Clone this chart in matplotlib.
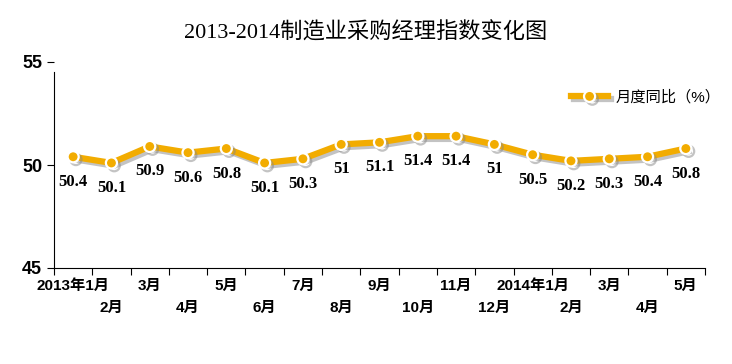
import numpy as np
import matplotlib.pyplot as plt
import matplotlib.patheffects as pe

plt.rcParams['font.family'] = ['Liberation Sans', 'Noto Sans CJK SC']

# 数据
months = ['2013年1月', '2月', '3月', '4月', '5月', '6月', '7月', '8月', '9月',
          '10月', '11月', '12月', '2014年1月', '2月', '3月', '4月', '5月']
values = [50.4, 50.1, 50.9, 50.6, 50.8, 50.1, 50.3, 51, 51.1,
          51.4, 51.4, 51, 50.5, 50.2, 50.3, 50.4, 50.8]
value_labels = ['50.4', '50.1', '50.9', '50.6', '50.8', '50.1', '50.3', '51', '51.1',
                '51.4', '51.4', '51', '50.5', '50.2', '50.3', '50.4', '50.8']
y_ticks = [45, 50, 55]

W, H = 732, 364
fig = plt.figure(figsize=(W / 100, H / 100), dpi=100)
ax = fig.add_axes([54 / W, (H - 268) / H, (705 - 54) / W, (268 - 62) / H])

x = np.arange(len(values))
gold = '#F2AC00'
shadow = [pe.SimpleLineShadow(offset=(2, -2), shadow_color='#888888', alpha=0.5), pe.Normal()]
ax.plot(x, values, color=gold, lw=4.5, marker='o', ms=8, mfc=gold, mec='white', mew=1.6,
        path_effects=shadow, solid_joinstyle='round', label='月度同比（%）', zorder=3)

for xi, v, s in zip(x, values, value_labels):
    ax.annotate(s, (xi, v), xytext=(0, -18), textcoords='offset points', ha='center', va='center',
                fontsize=12, fontweight='bold', family=['Liberation Serif', 'Noto Sans CJK SC'])

ax.set_xlim(-0.5, len(values) - 0.5)
ax.set_ylim(45, 55)
ax.set_yticks(y_ticks)
ax.set_yticklabels([str(t) for t in y_ticks], fontsize=13, fontweight='bold')
ax.set_xticks(np.arange(len(values) + 1) - 0.5)
ax.set_xticklabels([])
ax.tick_params(axis='x', length=5, direction='out')
ax.tick_params(axis='y', length=5, direction='out')

# 月份标签分两行交错
tr = ax.get_xaxis_transform()
for i, m in enumerate(months):
    row = i % 2
    ax.annotate(m, (x[i], 0), xycoords=tr, xytext=(0, -13 - row * 16), textcoords='offset points',
                ha='center', va='center', fontsize=11, fontweight='bold')

for s in ['top', 'right']:
    ax.spines[s].set_visible(False)
ax.spines['left'].set_bounds(45, 54.5)

ax.legend(loc='upper right', frameon=False, fontsize=11, handlelength=2.4, handletextpad=0.5,
          bbox_to_anchor=(1.045, 0.93))

fig.text(0.5, 1 - 33 / H, '2013-2014制造业采购经理指数变化图', ha='center', va='center',
         fontsize=16, family=['Liberation Serif', 'Noto Sans CJK SC'])

fig.savefig('out.png', dpi=100)
